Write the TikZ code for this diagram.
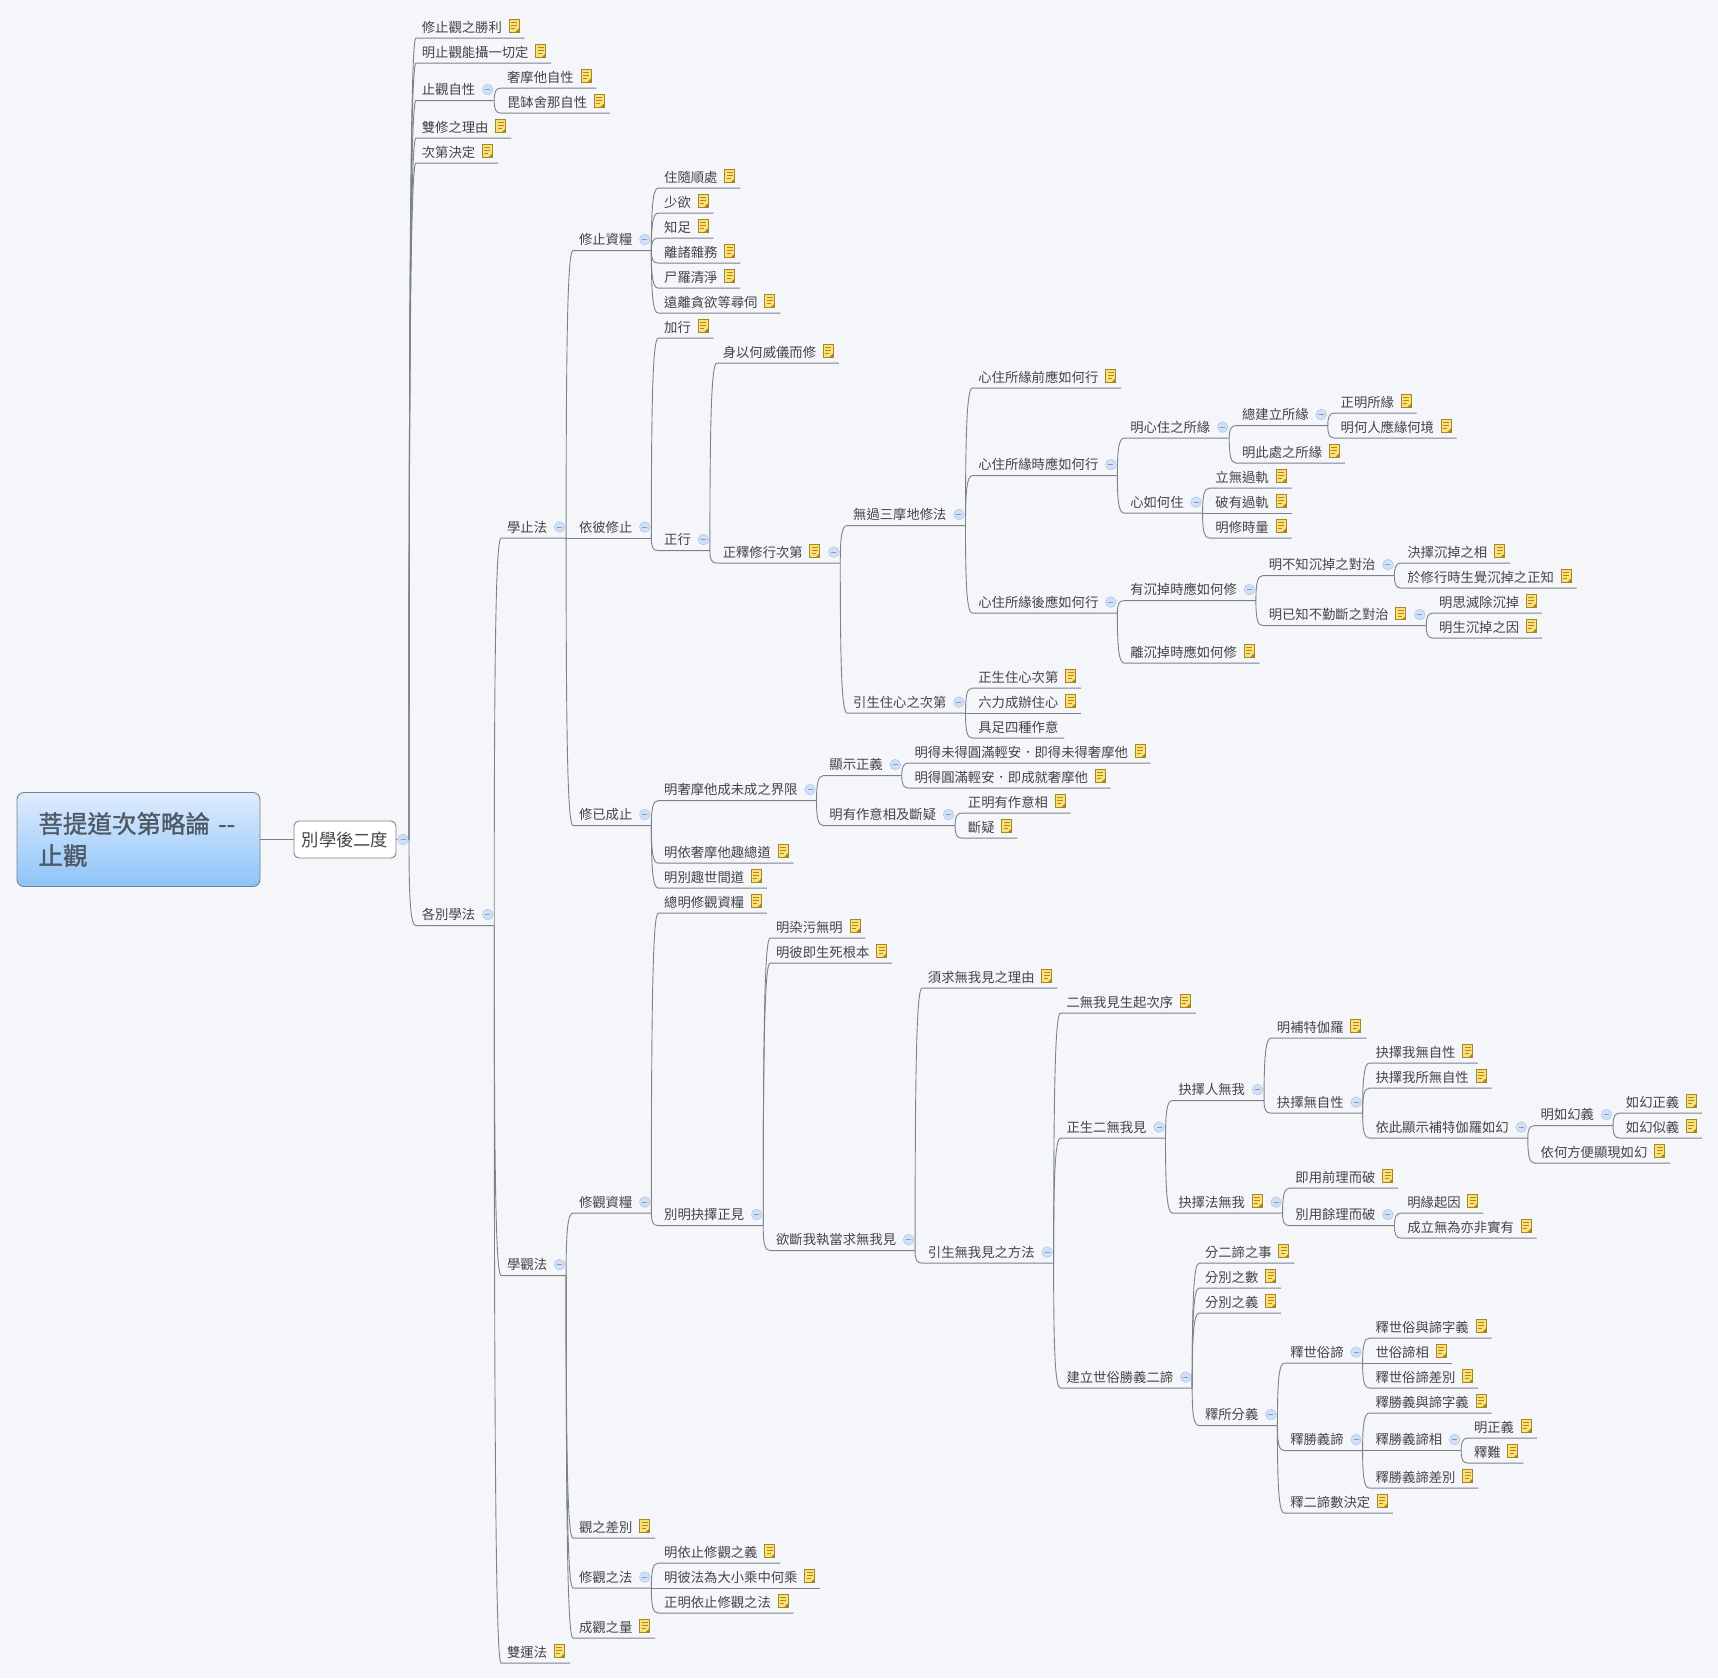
\documentclass[tikz,border=0pt]{standalone}
\usepackage{fontspec}
\usetikzlibrary{calc,shadings}
\newfontfamily\cjkfont{Noto Sans CJK TC}
\newfontfamily\cjktitle[FakeBold=1.2]{Noto Sans CJK TC}
\definecolor{bgcol}{HTML}{F4F6FA}
\definecolor{linecol}{HTML}{7E8287}
\definecolor{textcol}{HTML}{444444}
\definecolor{titlecol}{HTML}{4E5964}
\definecolor{notefill}{HTML}{F9E27A}
\definecolor{noteline}{HTML}{A8861F}
\definecolor{foldfill}{HTML}{D2E0F6}
\definecolor{foldline}{HTML}{B4CAEC}
\definecolor{foldbar}{HTML}{7C9CCF}
\definecolor{titletop}{HTML}{DFECFD}
\definecolor{titlebot}{HTML}{8DC4FA}
\tikzset{
  branch/.style={draw=linecol,line width=0.9pt},
  topic/.style={anchor=south west,inner xsep=6pt,inner ysep=3pt,outer sep=0pt,text height=11pt,text depth=3pt,text=textcol,font={\cjkfont\fontsize{13.33}{16}\selectfont}},
  kindplain/.style={},
  kindnote/.style={execute at end node={\hspace*{16.7pt}}},
  kindfold/.style={execute at end node={\hspace*{13pt}}},
  kindboth/.style={execute at end node={\hspace*{31.5pt}}},
  noteicon/.style={draw=noteline,fill=notefill,line width=0.9pt,minimum width=10pt,minimum height=12.5pt,inner sep=0pt,
    path picture={
      \draw[noteline!80!orange,line width=0.8pt] ([xshift=2pt,yshift=3.5pt]path picture bounding box.west) -- ([xshift=8pt,yshift=3.5pt]path picture bounding box.west);
      \draw[noteline!80!orange,line width=0.8pt] ([xshift=2pt,yshift=0.5pt]path picture bounding box.west) -- ([xshift=8pt,yshift=0.5pt]path picture bounding box.west);
      \draw[noteline!80!orange,line width=0.8pt] ([xshift=2pt,yshift=-2.5pt]path picture bounding box.west) -- ([xshift=6pt,yshift=-2.5pt]path picture bounding box.west);
      \fill[noteline] (path picture bounding box.south east) -- ([xshift=-4pt]path picture bounding box.south east) -- ([yshift=4pt]path picture bounding box.south east) -- cycle;
    }},
  foldicon/.style={circle,draw=foldline,fill=foldfill,line width=0.7pt,minimum size=10.5pt,inner sep=0pt,
    path picture={\draw[foldbar,line width=0.8pt] ([xshift=-2.5pt]path picture bounding box.center) -- ([xshift=2.5pt]path picture bounding box.center);}},
  rootbox/.style={draw=linecol,rounded corners=7pt,top color=titletop,bottom color=titlebot,line width=0.9pt,minimum width=243pt,minimum height=94pt,align=left,text width=200pt,text=titlecol,font={\cjktitle\fontsize{24.5}{32}\selectfont}},
  secondbox/.style={draw=linecol,rounded corners=5pt,fill=white,line width=0.9pt,minimum width=102pt,minimum height=37pt,inner sep=0pt,text=textcol,font={\cjkfont\fontsize{17.3}{20}\selectfont}},
}
\newcommand{\iconplain}[1]{}
\newcommand{\iconnote}[1]{\node[noteicon] (#1-note) at ([xshift=-10.5pt,yshift=12pt]#1.south east) {};}
\newcommand{\iconfold}[1]{\node[foldicon] (#1-fold) at ([xshift=-6.5pt,yshift=11pt]#1.south east) {};}
\newcommand{\iconboth}[1]{\node[noteicon] (#1-note) at ([xshift=-25.5pt,yshift=12pt]#1.south east) {};
  \node[foldicon] (#1-fold) at ([xshift=-6.5pt,yshift=11pt]#1.south east) {};}
% kind, name, parent, row, text
\newcommand{\topic}[5]{
  \path let \p1=(#3.south east) in node[topic,kind#1] (#2) at (\x1+6.9pt,{38.1+25*#4}) {#5};
  \draw[branch] let \p1=(#3.south east), \p2=(#2.south west), \n1={\y2-\y1} in (\p1) .. controls (\x1,\y1+0.7*\n1) and (\x1+1.5pt,\y2) .. (\p2) -- (#2.south east);
  \csname icon#1\endcsname{#2}
}
\begin{document}
\begin{tikzpicture}[x=1pt,y=-1pt]
\useasboundingbox (0,0) rectangle (1718,1678);
\fill[bgcol] (0,0) rectangle (1718,1678);
\node[rootbox] (root) at (138.5,839.5) {菩提道次第略論 --\\止觀};
\node[secondbox] (second) at (345,839.5) {別學後二度};
\node[inner sep=0pt,outer sep=0pt] (trunk) at (408.5,839.5) {};
\draw[branch] (root) -- (second);
\draw[branch] (second) -- (trunk);
\node[foldicon] (second-fold) at (403,839.5) {};
% first branch
\topic{note}{shengli}{trunk}{0}{修止觀之勝利}
\topic{note}{shedeng}{trunk}{1}{明止觀能攝一切定}
\topic{fold}{zixing}{trunk}{2.5}{止觀自性}
\topic{note}{shamata}{zixing}{2}{奢摩他自性}
\topic{note}{pisheyana}{zixing}{3}{毘缽舍那自性}
\topic{note}{shuangxiu}{trunk}{4}{雙修之理由}
\topic{note}{cidi}{trunk}{5}{次第決定}
\topic{fold}{biexue}{trunk}{35.5}{各別學法}
% calm abiding
\topic{fold}{xuezhi}{biexue}{20}{學止法}
\topic{fold}{zhiziliang}{xuezhi}{8.5}{修止資糧}
\topic{note}{zhusui}{zhiziliang}{6}{住隨順處}
\topic{note}{shaoyu}{zhiziliang}{7}{少欲}
\topic{note}{zhizu}{zhiziliang}{8}{知足}
\topic{note}{lizhu}{zhiziliang}{9}{離諸雜務}
\topic{note}{shiluo}{zhiziliang}{10}{尸羅清淨}
\topic{note}{yuanli}{zhiziliang}{11}{遠離貪欲等尋伺}
\topic{fold}{yibi}{xuezhi}{20}{依彼修止}
\topic{note}{jiaxing}{yibi}{12}{加行}
\topic{fold}{zhengxing}{yibi}{20.5}{正行}
\topic{note}{shenyi}{zhengxing}{13}{身以何威儀而修}
\topic{both}{zhengshi}{zhengxing}{21}{正釋修行次第}
\topic{fold}{wuguo}{zhengshi}{19.5}{無過三摩地修法}
\topic{note}{xinqian}{wuguo}{14}{心住所緣前應如何行}
\topic{fold}{xinshi}{wuguo}{17.5}{心住所緣時應如何行}
\topic{fold}{mingxin}{xinshi}{16}{明心住之所緣}
\topic{fold}{zongjian}{mingxin}{15.5}{總建立所緣}
\topic{note}{zhengming}{zongjian}{15}{正明所緣}
\topic{note}{minghe}{zongjian}{16}{明何人應緣何境}
\topic{note}{mingci}{mingxin}{17}{明此處之所緣}
\topic{fold}{xinru}{xinshi}{19}{心如何住}
\topic{note}{liwu}{xinru}{18}{立無過軌}
\topic{note}{poyou}{xinru}{19}{破有過軌}
\topic{note}{mingxiu}{xinru}{20}{明修時量}
\topic{fold}{xinhou}{wuguo}{23}{心住所緣後應如何行}
\topic{fold}{youchen}{xinhou}{22.5}{有沉掉時應如何修}
\topic{fold}{mingbu}{youchen}{21.5}{明不知沉掉之對治}
\topic{note}{juezechen}{mingbu}{21}{決擇沉掉之相}
\topic{note}{yuxiu}{mingbu}{22}{於修行時生覺沉掉之正知}
\topic{both}{mingyi}{youchen}{23.5}{明已知不勤斷之對治}
\topic{note}{mingsi}{mingyi}{23}{明思滅除沉掉}
\topic{note}{mingsheng}{mingyi}{24}{明生沉掉之因}
\topic{note}{lichen}{xinhou}{25}{離沉掉時應如何修}
\topic{fold}{yinsheng}{zhengshi}{27}{引生住心之次第}
\topic{note}{zhengsheng}{yinsheng}{26}{正生住心次第}
\topic{note}{liuli}{yinsheng}{27}{六力成辦住心}
\topic{plain}{juzu}{yinsheng}{28}{具足四種作意}
\topic{fold}{xiuyi}{xuezhi}{31.5}{修已成止}
\topic{fold}{mingshe}{xiuyi}{30.5}{明奢摩他成未成之界限}
\topic{fold}{xianshi}{mingshe}{29.5}{顯示正義}
\topic{note}{mingde}{xianshi}{29}{明得未得圓滿輕安．即得未得奢摩他}
\topic{note}{mingyuan}{xianshi}{30}{明得圓滿輕安．即成就奢摩他}
\topic{fold}{mingyou}{mingshe}{31.5}{明有作意相及斷疑}
\topic{note}{zhengyou}{mingyou}{31}{正明有作意相}
\topic{note}{duanyi}{mingyou}{32}{斷疑}
\topic{note}{mingyishe}{xiuyi}{33}{明依奢摩他趣總道}
\topic{note}{mingbie}{xiuyi}{34}{明別趣世間道}
% insight
\topic{fold}{xueguan}{biexue}{49.5}{學觀法}
\topic{fold}{guanziliang}{xueguan}{47}{修觀資糧}
\topic{note}{zongming}{guanziliang}{35}{總明修觀資糧}
\topic{fold}{bieming}{guanziliang}{47.5}{別明抉擇正見}
\topic{note}{mingran}{bieming}{36}{明染污無明}
\topic{note}{mingbi}{bieming}{37}{明彼即生死根本}
\topic{fold}{yuduan}{bieming}{48.5}{欲斷我執當求無我見}
\topic{note}{xuqiu}{yuduan}{38}{須求無我見之理由}
\topic{fold}{yinwu}{yuduan}{49}{引生無我見之方法}
\topic{note}{erwu}{yinwu}{39}{二無我見生起次序}
\topic{fold}{zhengerwu}{yinwu}{44}{正生二無我見}
\topic{fold}{jueren}{zhengerwu}{42.5}{抉擇人無我}
\topic{note}{mingbute}{jueren}{40}{明補特伽羅}
\topic{fold}{juewu}{jueren}{43}{抉擇無自性}
\topic{note}{juewo}{juewu}{41}{抉擇我無自性}
\topic{note}{juesuo}{juewu}{42}{抉擇我所無自性}
\topic{fold}{yici}{juewu}{44}{依此顯示補特伽羅如幻}
\topic{fold}{mingru}{yici}{43.5}{明如幻義}
\topic{note}{ruzheng}{mingru}{43}{如幻正義}
\topic{note}{rusi}{mingru}{44}{如幻似義}
\topic{note}{yihe}{yici}{45}{依何方便顯現如幻}
\topic{both}{juefa}{zhengerwu}{47}{抉擇法無我}
\topic{note}{jiyong}{juefa}{46}{即用前理而破}
\topic{fold}{bieyong}{juefa}{47.5}{別用餘理而破}
\topic{note}{mingyuanqi}{bieyong}{47}{明緣起因}
\topic{note}{chengli}{bieyong}{48}{成立無為亦非實有}
\topic{fold}{jianli}{yinwu}{54}{建立世俗勝義二諦}
\topic{note}{fener}{jianli}{49}{分二諦之事}
\topic{note}{fenshu}{jianli}{50}{分別之數}
\topic{note}{fenyi}{jianli}{51}{分別之義}
\topic{fold}{shisuo}{jianli}{55.5}{釋所分義}
\topic{fold}{shishi}{shisuo}{53}{釋世俗諦}
\topic{note}{shiyu}{shishi}{52}{釋世俗與諦字義}
\topic{note}{shixiang}{shishi}{53}{世俗諦相}
\topic{note}{shicha}{shishi}{54}{釋世俗諦差別}
\topic{fold}{shisheng}{shisuo}{56.5}{釋勝義諦}
\topic{note}{shengyu}{shisheng}{55}{釋勝義與諦字義}
\topic{fold}{shengxiang}{shisheng}{56.5}{釋勝義諦相}
\topic{note}{mingzheng}{shengxiang}{56}{明正義}
\topic{note}{shinan}{shengxiang}{57}{釋難}
\topic{note}{shengcha}{shisheng}{58}{釋勝義諦差別}
\topic{note}{shier}{shisuo}{59}{釋二諦數決定}
\topic{note}{guanzhi}{xueguan}{60}{觀之差別}
\topic{fold}{xiufa}{xueguan}{62}{修觀之法}
\topic{note}{mingyizhi}{xiufa}{61}{明依止修觀之義}
\topic{note}{mingbifa}{xiufa}{62}{明彼法為大小乘中何乘}
\topic{note}{zhengyi}{xiufa}{63}{正明依止修觀之法}
\topic{note}{chengguan}{xueguan}{64}{成觀之量}
\topic{note}{shuangyun}{biexue}{65}{雙運法}
\end{tikzpicture}
\end{document}
